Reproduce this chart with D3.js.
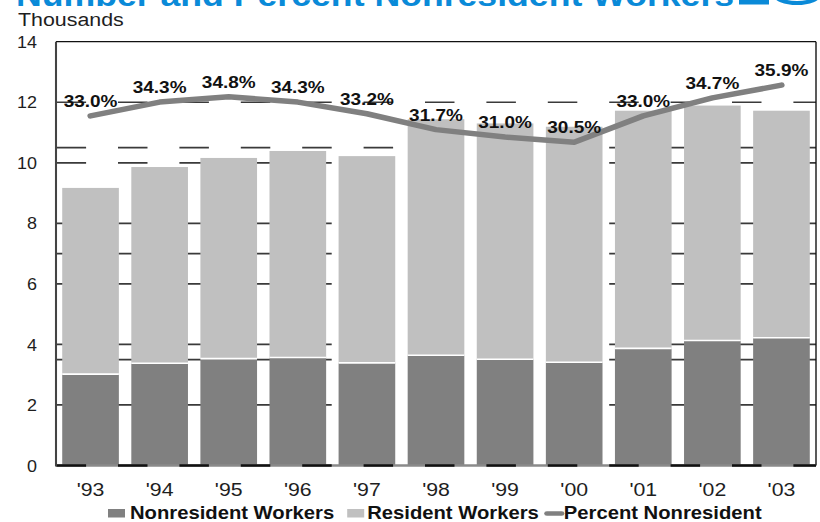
<!DOCTYPE html>
<html>
<head>
<meta charset="utf-8">
<script src="https://cdn.jsdelivr.net/npm/d3@7/dist/d3.min.js"></script>
<style>
  html, body { margin: 0; padding: 0; background: #fff; }
  svg { display: block; }
  text { font-family: "Liberation Sans", Arial, Helvetica, sans-serif; }
</style>
</head>
<body>
<div id="chart"></div>
<script>
// Categories and series (thousands of workers)
const years = ["'93", "'94", "'95", "'96", "'97", "'98", "'99", "'00", "'01", "'02", "'03"];
const nonresident = [3.02, 3.38, 3.53, 3.57, 3.39, 3.64, 3.51, 3.41, 3.87, 4.13, 4.22];
const resident = [6.15, 6.48, 6.63, 6.82, 6.83, 7.80, 7.79, 7.78, 7.85, 7.76, 7.50];
// Share of nonresident workers, percent
const pctNonresident = [33.0, 34.3, 34.8, 34.3, 33.2, 31.7, 31.0, 30.5, 33.0, 34.7, 35.9];

// Axis ticks and horizontal rules
const yTicks = [0, 2, 4, 6, 8, 10, 12, 14];
const gridValues = [2, 3.5, 4, 6, 7, 8, 10, 10.5, 12];

const seriesNames = ["Nonresident Workers", "Resident Workers", "Percent Nonresident"];
const titleText = "Number and Percent Nonresident Workers";
const unitText = "Thousands";

// The drawing is laid out in a horizontally condensed coordinate space
// and stretched to the page width.
const W = 820, H = 522, SX = 1.15;
const VW = W / SX;
const px = v => v / SX;   // page pixels -> layout units (horizontal)

const DARK = "#808080", LIGHT = "#c0c0c0", INK = "#1e1e1e", BLUE = "#0a8ad8";

const svg = d3.select("#chart").append("svg")
  .attr("width", W).attr("height", H)
  .attr("viewBox", `0 0 ${VW} ${H}`)
  .attr("preserveAspectRatio", "none");

const plot = { left: px(56), right: px(816), top: 41.7, bottom: 465.5 };

const x = d3.scaleBand().domain(years)
  .range([plot.left, plot.right])
  .paddingInner(0.18).paddingOuter(0.09);
const y = d3.scaleLinear().domain([0, 14]).range([plot.bottom, plot.top]);
const yPct = d3.scaleLinear().domain([0, 40]).range([plot.bottom, plot.top]);

const rows = years.map((yr, i) => ({
  year: yr, non: nonresident[i], res: resident[i], pct: pctNonresident[i]
}));

// Title strip (runs off the top edge)
svg.append("text")
  .attr("x", px(16)).attr("y", 5.5)
  .attr("font-size", 31).attr("font-weight", "bold")
  .attr("fill", BLUE).text(titleText);
svg.append("rect")
  .attr("x", px(739)).attr("y", 0).attr("width", px(30)).attr("height", 4.5)
  .attr("fill", BLUE);
svg.append("ellipse")
  .attr("cx", px(797)).attr("cy", -6).attr("rx", px(22)).attr("ry", 9)
  .attr("fill", "none").attr("stroke", BLUE).attr("stroke-width", 4);

svg.append("text")
  .attr("x", px(18)).attr("y", 26)
  .attr("font-size", 18.6).attr("fill", INK).text(unitText);

// Dashed horizontal rules
const dash = `${px(29.5)},${px(31.9)}`;
svg.append("g").selectAll("line").data(gridValues).join("line")
  .attr("x1", px(56.6)).attr("x2", plot.right)
  .attr("y1", d => y(d)).attr("y2", d => y(d))
  .attr("stroke", "#3a3a3a").attr("stroke-width", 1.7)
  .attr("stroke-dasharray", dash);

// Stacked bars
const bars = svg.append("g");
bars.selectAll("rect.non").data(rows).join("rect")
  .attr("class", "non")
  .attr("x", d => x(d.year)).attr("width", x.bandwidth())
  .attr("y", d => y(d.non)).attr("height", d => y(0) - y(d.non))
  .attr("fill", DARK);
bars.selectAll("rect.res").data(rows).join("rect")
  .attr("class", "res")
  .attr("x", d => x(d.year)).attr("width", x.bandwidth())
  .attr("y", d => y(d.non + d.res)).attr("height", d => y(d.non) - y(d.non + d.res))
  .attr("fill", LIGHT);
bars.selectAll("line.sep").data(rows).join("line")
  .attr("class", "sep")
  .attr("x1", d => x(d.year)).attr("x2", d => x(d.year) + x.bandwidth())
  .attr("y1", d => y(d.non)).attr("y2", d => y(d.non))
  .attr("stroke", "#fff").attr("stroke-width", 1.6);

// Frame
const frame = svg.append("g");
frame.append("line")
  .attr("x1", plot.left).attr("x2", plot.right)
  .attr("y1", plot.top).attr("y2", plot.top)
  .attr("stroke", "#111").attr("stroke-width", 1.2);
frame.append("line")
  .attr("x1", plot.right).attr("x2", plot.right)
  .attr("y1", plot.top).attr("y2", plot.bottom)
  .attr("stroke", "#111").attr("stroke-width", 1.2);
frame.append("line")
  .attr("x1", plot.left).attr("x2", plot.right)
  .attr("y1", plot.bottom).attr("y2", plot.bottom)
  .attr("stroke", "#8a8a8a").attr("stroke-width", 2.4);
frame.append("line")
  .attr("x1", px(56.6)).attr("x2", plot.right)
  .attr("y1", plot.bottom).attr("y2", plot.bottom)
  .attr("stroke", "#111").attr("stroke-width", 2.4)
  .attr("stroke-dasharray", dash);
frame.append("line")
  .attr("x1", plot.left).attr("x2", plot.left)
  .attr("y1", plot.top).attr("y2", plot.bottom + 1)
  .attr("stroke", "#444").attr("stroke-width", 1.8);

// Y axis labels
const yAxis = d3.axisLeft(y).tickValues(yTicks).tickSize(0).tickPadding(0)
  .tickFormat(d3.format("d"));
svg.append("g")
  .attr("transform", `translate(${px(37)},0)`)
  .call(yAxis)
  .call(g => g.select(".domain").remove())
  .call(g => g.selectAll("text")
    .attr("font-size", 15.6).attr("fill", INK)
    .attr("font-family", "'Liberation Sans', Arial, sans-serif")
    .attr("x", 0).attr("dy", "0.36em"));

// X axis labels
const xAxis = d3.axisBottom(x).tickSize(0).tickPadding(0);
svg.append("g")
  .attr("transform", `translate(0,${plot.bottom})`)
  .call(xAxis)
  .call(g => g.select(".domain").remove())
  .call(g => g.selectAll("text")
    .attr("font-size", 18.5).attr("fill", INK)
    .attr("font-family", "'Liberation Sans', Arial, sans-serif")
    .attr("y", 30.2).attr("dy", 0));

// Percent line on its own 0-40% scale
const cx = d => x(d.year) + x.bandwidth() / 2;
const line = d3.line().x(cx).y(d => yPct(d.pct));
svg.append("path")
  .datum(rows)
  .attr("d", line)
  .attr("fill", "none")
  .attr("stroke", DARK).attr("stroke-width", 5.5)
  .attr("stroke-linejoin", "round").attr("stroke-linecap", "round");

svg.append("g").selectAll("text").data(rows).join("text")
  .attr("x", cx).attr("y", d => yPct(d.pct) - 9)
  .attr("text-anchor", "middle")
  .attr("font-size", 16.5).attr("font-weight", "bold").attr("fill", "#111")
  .text(d => d3.format(".1f")(d.pct) + "%");

// Legend
const legend = svg.append("g");
const legY = 519.3, fs = 17.6;
let lx = px(108);
const items = [
  { name: seriesNames[0], kind: "box", color: DARK, gapBefore: 0, gapAfter: px(5) },
  { name: seriesNames[1], kind: "box", color: LIGHT, gapBefore: px(13), gapAfter: px(3) },
  { name: seriesNames[2], kind: "line", color: DARK, gapBefore: px(6), gapAfter: 0 }
];
items.forEach(it => {
  lx += it.gapBefore;
  if (it.kind === "box") {
    legend.append("rect")
      .attr("x", lx).attr("y", 509).attr("width", px(17)).attr("height", 8.5)
      .attr("fill", it.color);
    lx += px(17);
  } else {
    legend.append("line")
      .attr("x1", lx + px(2)).attr("x2", lx + px(17))
      .attr("y1", 513.5).attr("y2", 513.5)
      .attr("stroke", it.color).attr("stroke-width", 4.5)
      .attr("stroke-linecap", "round");
    lx += px(19);
  }
  lx += it.gapAfter;
  const t = legend.append("text")
    .attr("x", lx).attr("y", legY)
    .attr("font-size", fs).attr("font-weight", "bold").attr("fill", "#111")
    .text(it.name);
  lx += t.node().getComputedTextLength();
});
</script>
</body>
</html>
